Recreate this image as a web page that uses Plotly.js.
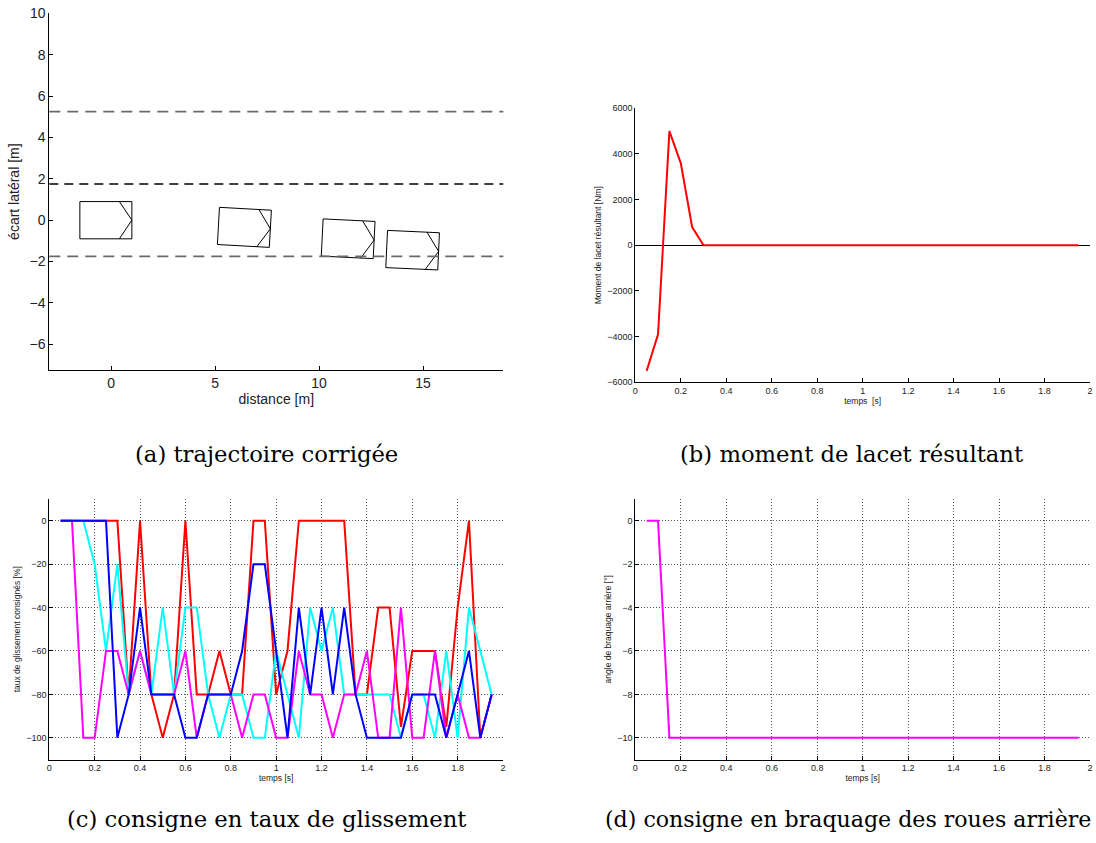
<!DOCTYPE html>
<html><head><meta charset="utf-8">
<script src="https://cdn.plot.ly/plotly-3.0.1.min.js"></script>
<style>html,body{margin:0;padding:0;background:#fff;} #chart{width:1096px;height:843px;}</style>
</head><body><div id="chart"></div>
<script>
// ---- data ----
const temps = [0.05,0.1,0.15,0.2,0.25,0.3,0.35,0.4,0.45,0.5,0.55,0.6,0.65,0.7,0.75,0.8,0.85,0.9,0.95,1.0,
               1.05,1.1,1.15,1.2,1.25,1.3,1.35,1.4,1.45,1.5,1.55,1.6,1.65,1.7,1.75,1.8,1.85,1.9,1.95];

const momentLacet = [-5500,-3900,5000,3600,800,0,0,0,0,0,0,0,0,0,0,0,0,0,0,0,
                     0,0,0,0,0,0,0,0,0,0,0,0,0,0,0,0,0,0,0];

const glissementRouge   = [0,0,0,0,0,0,-80,0,-80,-100,-80,0,-80,-80,-60,-80,-80,0,0,-80,
                           -60,0,0,0,0,0,-80,-80,-40,-40,-95,-60,-60,-60,-95,-40,0,-100,-80];
const glissementCyan    = [0,0,0,-20,-60,-20,-80,-60,-80,-40,-80,-40,-40,-80,-100,-80,-80,-100,-100,-60,
                           -80,-100,-40,-60,-40,-80,-80,-80,-80,-80,-100,-80,-80,-100,-60,-100,-40,-60,-80];
const glissementMagenta = [0,0,-100,-100,-60,-60,-80,-60,-80,-80,-80,-60,-100,-80,-80,-80,-100,-80,-80,-100,
                           -100,-60,-80,-80,-100,-80,-80,-60,-100,-100,-40,-100,-100,-60,-100,-80,-100,-100,-80];
const glissementBleu    = [0,0,0,0,0,-100,-80,-40,-80,-80,-80,-100,-100,-80,-80,-80,-60,-20,-20,-60,
                           -100,-40,-80,-40,-80,-40,-80,-100,-100,-100,-100,-80,-80,-80,-100,-80,-60,-100,-80];

const braquageArriere = [0,0,-10,-10,-10,-10,-10,-10,-10,-10,-10,-10,-10,-10,-10,-10,-10,-10,-10,-10,
                         -10,-10,-10,-10,-10,-10,-10,-10,-10,-10,-10,-10,-10,-10,-10,-10,-10,-10,-10];

const laneY = [5.25, 1.75, -1.75];
const carX = [0, 6.66, 11.65, 14.75];
const carY = [0, -0.36, -0.91, -1.46];
const carHeadingDeg = [0, -3.2, -2.8, -2.6];
// vehicle outline in its own frame [m]
const bodyX = [-1.5, 1.0, 1.0, -1.5, -1.5];
const bodyY = [0.9, 0.9, -0.9, -0.9, 0.9];
const noseX = [0.4, 1.0, 0.4];
const noseY = [0.9, 0.0, -0.9];

const captions = ["(a) trajectoire corrigée", "(b) moment de lacet résultant",
                  "(c) consigne en taux de glissement", "(d) consigne en braquage des roues arrière"];

// ---- build ----
const F = '"Liberation Sans", Arial, sans-serif';
const SERIF = '"DejaVu Serif", serif';
const traces = [];

function carTrace(i){
  const th = carHeadingDeg[i]*Math.PI/180, c = Math.cos(th), s = Math.sin(th);
  const xs = [], ys = [];
  const push = (px, py) => { xs.push(carX[i] + c*px - s*py); ys.push(carY[i] + s*px + c*py); };
  for (let k=0;k<bodyX.length;k++) push(bodyX[k], bodyY[k]);
  xs.push(null); ys.push(null);
  for (let k=0;k<noseX.length;k++) push(noseX[k], noseY[k]);
  return {x: xs, y: ys, xaxis:'x', yaxis:'y', mode:'lines', line:{color:'#000', width:1}, hoverinfo:'skip', showlegend:false};
}
for (let i=0;i<carX.length;i++) traces.push(carTrace(i));

traces.push({x: temps, y: momentLacet, xaxis:'x2', yaxis:'y2', mode:'lines', line:{color:'#ff0000', width:2}, showlegend:false});

const cSeries = [[glissementRouge,'#ff0000'],[glissementCyan,'#00ffff'],[glissementMagenta,'#ff00ff'],[glissementBleu,'#0000ff']];
cSeries.forEach(([v,col]) => traces.push({x: temps, y: v, xaxis:'x3', yaxis:'y3', mode:'lines', line:{color:col, width:2}, showlegend:false}));

traces.push({x: temps, y: braquageArriere, xaxis:'x4', yaxis:'y4', mode:'lines', line:{color:'#ff00ff', width:2}, showlegend:false});

const W = 1096, H = 843;
const px = v => v / W, py = v => 1 - v / H;

function axBase(extra){
  return Object.assign({
    showline:true, linecolor:'#000', linewidth:1, mirror:false,
    ticks:'inside', ticklen:4, tickcolor:'#000', tickwidth:1,
    zeroline:false, showgrid:false, fixedrange:true,
    tickfont:{family:F, size:9, color:'#222'}
  }, extra);
}
const gridOpts = {showgrid:true, gridcolor:'#555', gridwidth:1, griddash:'1px,2px'};

const shapes = laneY.map((yv, i) => ({
  type:'line', xref:'x domain', x0:0, x1:1, yref:'y', y0:yv, y1:yv,
  line:{color: i===1 ? '#000' : '#6a6a6a', width: i===1 ? 1.3 : 1.8, dash: i===1 ? '9px,6px' : '11px,7px'}
}));

const capFont = {family:SERIF, size:22.7, color:'#000'};
const capFontD = {family:SERIF, size:22.1, color:'#000'};

const layout = {
  width: W, height: H,
  margin:{l:0, r:0, t:0, b:0},
  paper_bgcolor:'#fff', plot_bgcolor:'rgba(0,0,0,0)',
  font:{family:F, color:'#222'},
  showlegend:false,
  xaxis: axBase({domain:[px(49.3), px(503.3)], anchor:'y', range:[-2.97, 18.86], tick0:0, dtick:5,
    tickfont:{family:F, size:14, color:'#222'},
    title:{text:'distance [m]', font:{family:F, size:14, color:'#222'}, standoff:4}}),
  yaxis: axBase({domain:[py(370), py(13.3)], anchor:'x', range:[-7.24, 10], tick0:0, dtick:2,
    tickfont:{family:F, size:14, color:'#222'},
    title:{text:'écart latéral [m]', font:{family:F, size:14, color:'#222'}, standoff:6}}),

  xaxis2: axBase({domain:[px(635.3), px(1090)], anchor:'y2', range:[0, 2], tick0:0, dtick:0.2,
    title:{text:'temps\u00a0 [s]', font:{family:F, size:8.5, color:'#222'}, standoff:2}}),
  yaxis2: axBase({domain:[py(382.3), py(108.3)], anchor:'x2', range:[-6000, 6000], tick0:0, dtick:2000,
    zeroline:true, zerolinecolor:'#000', zerolinewidth:1,
    title:{text:'Moment de lacet résultant [Nm]', font:{family:F, size:8.5, color:'#222'}, standoff:4}}),

  xaxis3: axBase(Object.assign({domain:[px(49.3), px(503)], anchor:'y3', range:[0, 2], tick0:0, dtick:0.2,
    title:{text:'temps [s]', font:{family:F, size:8.5, color:'#222'}, standoff:2}}, gridOpts)),
  yaxis3: axBase(Object.assign({domain:[py(759.5), py(499)], anchor:'x3', range:[-110, 10], tick0:0, dtick:20,
    title:{text:'taux de glissement consignés [%]', font:{family:F, size:8.5, color:'#222'}, standoff:4}}, gridOpts)),

  xaxis4: axBase(Object.assign({domain:[px(635.3), px(1090)], anchor:'y4', range:[0, 2], tick0:0, dtick:0.2,
    title:{text:'temps [s]', font:{family:F, size:8.5, color:'#222'}, standoff:2}}, gridOpts)),
  yaxis4: axBase(Object.assign({domain:[py(759.5), py(499)], anchor:'x4', range:[-11, 1], tick0:0, dtick:2,
    title:{text:'angle de braquage arrière [°]', font:{family:F, size:8.5, color:'#222'}, standoff:4}}, gridOpts)),

  shapes: shapes,
  annotations: [
    {text:captions[0], xref:'paper', yref:'paper', x:px(266), y:py(454), xanchor:'center', yanchor:'middle', showarrow:false, font:capFont},
    {text:captions[1], xref:'paper', yref:'paper', x:px(851), y:py(454), xanchor:'center', yanchor:'middle', showarrow:false, font:capFont},
    {text:captions[2], xref:'paper', yref:'paper', x:px(266), y:py(819), xanchor:'center', yanchor:'middle', showarrow:false, font:capFont},
    {text:captions[3], xref:'paper', yref:'paper', x:px(1093), y:py(819), xanchor:'right', yanchor:'middle', showarrow:false, font:capFontD}
  ]
};

Plotly.newPlot('chart', traces, layout, {displayModeBar:false, staticPlot:true});
</script>
</body></html>
